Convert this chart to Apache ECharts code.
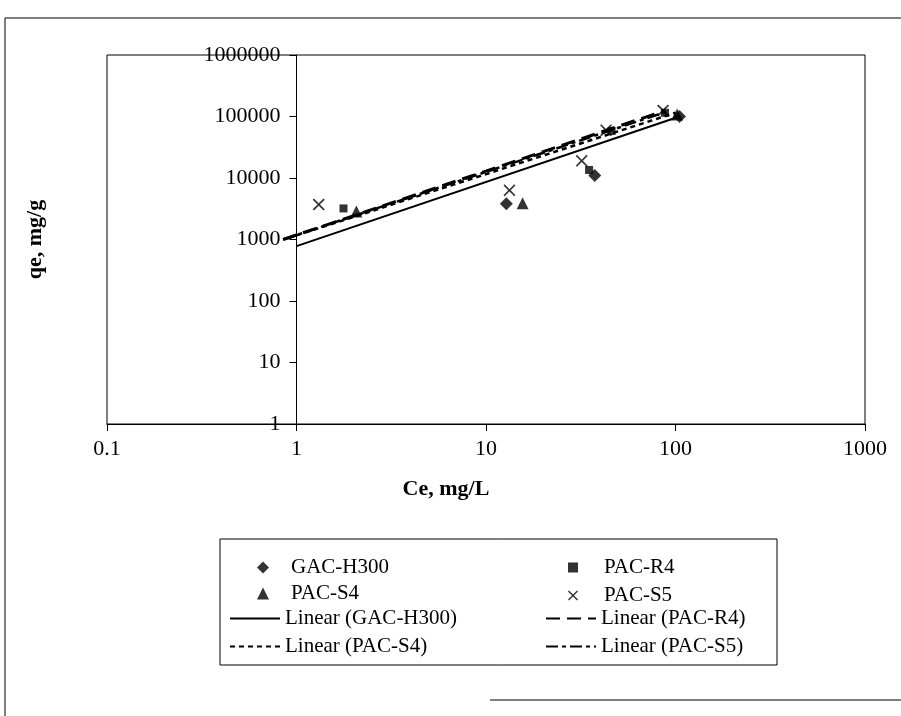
<!DOCTYPE html>
<html>
<head>
<meta charset="utf-8">
<script src="https://cdn.jsdelivr.net/npm/echarts@6/dist/echarts.min.js"></script>
<style>
  html, body { margin: 0; padding: 0; background: #fff; }
  #chart { width: 901px; height: 716px; }
</style>
</head>
<body>
<div id="chart"></div>
<script>
// measured points [Ce, qe]
const gacH300 = [[12.8, 3800], [37.5, 11000], [105, 100000]];
const pacR4 = [[1.77, 3200], [35, 13500], [46, 58000], [88, 115000]];
const pacS4 = [[2.07, 2850], [15.6, 3900], [102, 108000]];
const pacS5 = [[1.31, 3700], [13.3, 6300], [32, 19000], [43, 60000], [86, 125000]];

// trend line ends
const trendGac = [[1, 780], [105, 100000]];
const trendR4 = [[0.85, 1000], [88, 125000]];
const trendS4 = [[0.9, 1050], [100, 115000]];
const trendS5 = [[0.85, 1000], [90, 120000]];

const serif = "Liberation Serif";
const xMark = "path://M0,1 L1,0 L5,4 L9,0 L10,1 L6,5 L10,9 L9,10 L5,6 L1,10 L0,9 L4,5 Z";

let myChart = echarts.init(document.getElementById("chart"));

function fmt(v) {
  return String(+Number(v).toPrecision(6));
}

function trend(name, data, type, width) {
  return {
    name: name,
    type: "line",
    data: data,
    symbol: "none",
    silent: true,
    lineStyle: { color: "#000", width: width, type: type },
    itemStyle: { color: "#000" },
    z: 2,
  };
}

function dots(name, data, symbol, size) {
  return {
    name: name,
    type: "scatter",
    data: data,
    symbol: symbol,
    symbolSize: size,
    itemStyle: { color: "#000" },
    z: 3,
  };
}

let legendText = { fontFamily: serif, fontSize: 21, color: "#000" };

let option = {
  backgroundColor: "#fff",
  animation: false,
  grid: {
    left: 107,
    right: 36,
    top: 55,
    bottom: 292,
    show: true,
    borderColor: "#000",
    borderWidth: 1,
  },
  xAxis: {
    type: "log",
    logBase: 10,
    min: 0.1,
    max: 1000,
    name: "Ce, mg/L",
    nameLocation: "middle",
    nameGap: 54,
    nameTextStyle: {
      fontFamily: serif,
      fontSize: 22,
      fontWeight: "bold",
      color: "#000",
      padding: [0, 80, 0, 0],
    },
    axisLine: { lineStyle: { color: "#000", width: 1 } },
    axisTick: { show: true, length: 7, lineStyle: { color: "#000" } },
    minorTick: { show: false },
    splitLine: { show: false },
    axisLabel: {
      formatter: fmt,
      fontFamily: serif,
      fontSize: 22,
      color: "#000",
      margin: 14,
    },
  },
  yAxis: {
    type: "log",
    logBase: 10,
    min: 1,
    max: 1000000,
    position: "left",
    offset: -189.5,
    name: "qe, mg/g",
    nameLocation: "middle",
    nameGap: 250,
    nameTextStyle: {
      fontFamily: serif,
      fontSize: 22,
      fontWeight: "bold",
      color: "#000",
    },
    axisLine: { show: true, lineStyle: { color: "#000", width: 1 } },
    axisTick: { show: true, length: 7, lineStyle: { color: "#000" } },
    splitLine: { show: false },
    axisLabel: {
      formatter: fmt,
      fontFamily: serif,
      fontSize: 22,
      color: "#000",
      margin: 16,
    },
  },
  legend: [
    {
      left: 252,
      top: 552,
      orient: "vertical",
      itemWidth: 12,
      itemHeight: 12,
      itemGap: 5,
      textStyle: Object.assign({ padding: [0, 0, 0, 17] }, legendText),
      data: [
        { name: "GAC-H300", icon: "diamond" },
        { name: "PAC-S4", icon: "triangle" },
      ],
    },
    {
      left: 224,
      top: 603,
      orient: "vertical",
      itemWidth: 50,
      itemHeight: 10,
      itemGap: 7,
      itemStyle: { opacity: 0 },
      textStyle: legendText,
      data: ["Linear (GAC-H300)", "Linear (PAC-S4)"],
    },
    {
      left: 563,
      top: 552,
      orient: "vertical",
      itemWidth: 10,
      itemHeight: 10,
      itemGap: 7,
      textStyle: Object.assign({ padding: [0, 0, 0, 21] }, legendText),
      data: [
        { name: "PAC-R4", icon: "rect" },
        { name: "PAC-S5", icon: xMark },
      ],
    },
    {
      left: 540,
      top: 603,
      orient: "vertical",
      itemWidth: 50,
      itemHeight: 10,
      itemGap: 7,
      itemStyle: { opacity: 0 },
      textStyle: legendText,
      data: ["Linear (PAC-R4)", "Linear (PAC-S5)"],
    },
  ],
  graphic: [
    {
      type: "polyline",
      shape: { points: [[5, 716], [5, 18], [901, 18]] },
      style: { stroke: "#000", lineWidth: 1, fill: null },
      silent: true,
    },
    {
      type: "line",
      shape: { x1: 490, y1: 700, x2: 901, y2: 700 },
      style: { stroke: "#000", lineWidth: 1 },
      silent: true,
    },
    {
      type: "rect",
      shape: { x: 220, y: 539, width: 557, height: 126 },
      style: { stroke: "#000", lineWidth: 1, fill: null },
      silent: true,
    },
  ],
  series: [
    dots("GAC-H300", gacH300, "diamond", 13),
    dots("PAC-R4", pacR4, "rect", 8),
    dots("PAC-S4", pacS4, "triangle", 12),
    dots("PAC-S5", pacS5, xMark, 12),
    trend("Linear (GAC-H300)", trendGac, "solid", 2),
    trend("Linear (PAC-R4)", trendR4, [14, 7], 3),
    trend("Linear (PAC-S4)", trendS4, [5, 4], 2.5),
    trend("Linear (PAC-S5)", trendS5, [12, 4, 4, 4], 2.5),
  ],
};

myChart.setOption(option);
window.addEventListener("resize", function () {
  myChart.resize();
});
</script>
</body>
</html>
